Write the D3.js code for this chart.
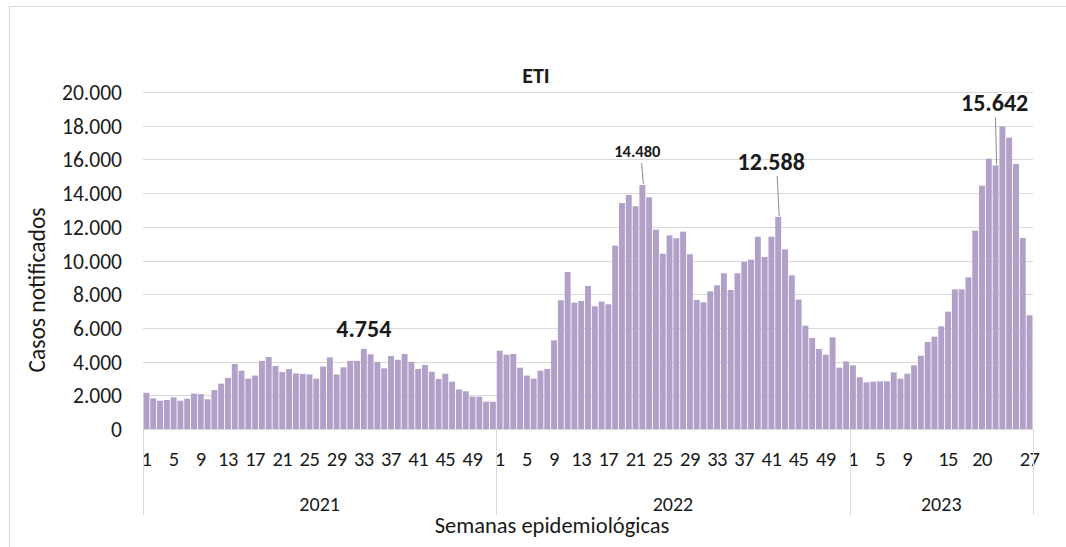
<!DOCTYPE html>
<html>
<head>
<meta charset="utf-8">
<script src="https://cdn.jsdelivr.net/npm/d3@7"></script>
<style>
  body { margin: 0; background: #fff; }
  svg text { font-family: Carlito, Calibri, Lato, sans-serif; fill: #1a1a1a; }
</style>
</head>
<body>
<svg id="chart"></svg>
<script>
// weekly ETI cases
const years = ["2021", "2022", "2023"];
const cases2021 = [2150,1820,1680,1720,1880,1680,1800,2100,2070,1760,
                   2310,2690,3030,3860,3460,2990,3170,4040,4270,3740,
                   3380,3560,3300,3270,3240,2990,3700,4250,3240,3660,
                   4040,4040,4754,4430,3980,3600,4330,4110,4450,3980,
                   3560,3800,3400,2970,3280,2810,2350,2240,1920,1920,
                   1620,1620];
const cases2022 = [4650,4410,4450,3640,3170,2990,3460,3560,5260,7640,
                   9320,7500,7600,8490,7280,7560,7400,10880,13410,13890,
                   13220,14480,13750,11830,10400,11490,11320,11710,10370,7660,
                   7520,8170,8530,9240,8250,9240,9910,10050,11410,10210,
                   11410,12588,10660,9120,7680,6130,5400,4750,4410,5440,
                   3640,4010];
const cases2023 = [3780,3070,2770,2810,2830,2830,3360,2990,3280,3780,
                   4350,5160,5480,6090,6960,8290,8290,9000,11770,14440,
                   16040,15642,17960,17290,15730,11340,6750];
const weekLabels2021 = [1,5,9,13,17,21,25,29,33,37,41,45,49];
const weekLabels2022 = [1,5,9,13,17,21,25,29,33,37,41,45,49];
const weekLabels2023 = [1,5,9,15,20,27];
const yTicks = [0,2000,4000,6000,8000,10000,12000,14000,16000,18000,20000];
const callouts = [
  { year: "2021", week: 33, text: "4.754" },
  { year: "2022", week: 22, text: "14.480" },
  { year: "2022", week: 42, text: "12.588" },
  { year: "2023", week: 22, text: "15.642" }
];

const width = 1066, height = 547;
const margin = { left: 143, right: 33, top: 92, bottom: 118 };

const svg = d3.select("#chart").attr("width", width).attr("height", height);

// flatten into one list of bars
let bars = [];
[cases2021, cases2022, cases2023].forEach(function (arr, i) {
  arr.forEach(function (v, j) {
    bars.push({ year: years[i], week: j + 1, value: v, key: years[i] + "-" + (j + 1) });
  });
});

let x = d3.scaleBand()
  .domain(bars.map(d => d.key))
  .range([margin.left, width - margin.right])
  .paddingInner(0.13)
  .paddingOuter(0.07);

let y = d3.scaleLinear()
  .domain([0, 20000])
  .range([height - margin.bottom, margin.top]);

const fmt = d3.formatLocale({ decimal: ",", thousands: ".", grouping: [3], currency: ["", ""] }).format(",d");

// frame (only top and left edges are visible in the crop)
svg.append("line").attr("x1", 9.5).attr("x2", width).attr("y1", 6.5).attr("y2", 6.5)
  .style("stroke", "#d9d9d9").style("stroke-width", 1.2);
svg.append("line").attr("x1", 9.5).attr("x2", 9.5).attr("y1", 6.5).attr("y2", height)
  .style("stroke", "#d9d9d9").style("stroke-width", 1.2);

// gridlines
svg.append("g")
  .selectAll("line")
  .data(yTicks.filter(t => t > 0))
  .join("line")
  .attr("x1", margin.left)
  .attr("x2", width - margin.right)
  .attr("y1", d => Math.round(y(d)) + 0.5)
  .attr("y2", d => Math.round(y(d)) + 0.5)
  .style("stroke", "#d9d9d9")
  .style("stroke-width", 1);

// y axis labels
let yAxis = d3.axisLeft(y).tickValues(yTicks).tickFormat(d => d === 0 ? "0" : fmt(d)).tickSize(0).tickPadding(21);
svg.append("g")
  .attr("transform", "translate(" + margin.left + ",0)")
  .call(yAxis)
  .call(g => g.select(".domain").remove())
  .selectAll("text")
  .style("font-size", "21.5px")
  .attr("dy", "0.35em");

// bars
svg.append("g")
  .selectAll("rect")
  .data(bars)
  .join("rect")
  .attr("x", d => x(d.key))
  .attr("width", x.bandwidth())
  .attr("y", d => y(d.value))
  .attr("height", d => y(0) - y(d.value))
  .style("fill", "#b1a0c8");

// baseline
svg.append("line")
  .attr("x1", margin.left).attr("x2", width - margin.right)
  .attr("y1", y(0) + 0.5).attr("y2", y(0) + 0.5)
  .style("stroke", "#d9d9d9");

// week tick labels
let weekTicks = [];
weekLabels2021.forEach(w => weekTicks.push({ key: "2021-" + w, label: w }));
weekLabels2022.forEach(w => weekTicks.push({ key: "2022-" + w, label: w }));
weekLabels2023.forEach(w => weekTicks.push({ key: "2023-" + w, label: w }));

svg.append("g")
  .selectAll("text")
  .data(weekTicks)
  .join("text")
  .attr("x", d => x(d.key) + x.bandwidth() / 2)
  .attr("y", y(0) + 37)
  .attr("text-anchor", "middle")
  .style("font-size", "20.5px")
  .style("letter-spacing", "-0.5px")
  .text(d => d.label);

// year group separators and labels
let step = x.step();
let groupEdges = [margin.left];
let groups = years.map(function (yr) {
  let ks = bars.filter(b => b.year === yr);
  let x0 = x(ks[0].key) - (step - x.bandwidth()) / 2;
  let x1 = x(ks[ks.length - 1].key) + x.bandwidth() + (step - x.bandwidth()) / 2;
  return { year: yr, x0: x0, x1: x1 };
});
groups[0].x0 = margin.left;
groups[groups.length - 1].x1 = width - margin.right;
groups.forEach(g => groupEdges.push(g.x1));

svg.append("g")
  .selectAll("line")
  .data(groupEdges)
  .join("line")
  .attr("x1", d => Math.round(d) + 0.5)
  .attr("x2", d => Math.round(d) + 0.5)
  .attr("y1", y(0))
  .attr("y2", y(0) + 86)
  .style("stroke", "#d9d9d9");

svg.append("g")
  .selectAll("text")
  .data(groups)
  .join("text")
  .attr("x", d => (d.x0 + d.x1) / 2)
  .attr("y", y(0) + 82)
  .attr("text-anchor", "middle")
  .style("font-size", "20px")
  .text(d => d.year);

// titles
svg.append("text")
  .attr("x", 536).attr("y", 83)
  .attr("text-anchor", "middle")
  .style("font-size", "22px").style("font-weight", "bold")
  .text("ETI");

svg.append("text")
  .attr("transform", "translate(45,290) rotate(-90)")
  .attr("text-anchor", "middle")
  .style("font-size", "23.5px")
  .text("Casos notificados");

svg.append("text")
  .attr("x", 552).attr("y", 533)
  .attr("text-anchor", "middle")
  .style("font-size", "22.5px")
  .text("Semanas epidemiológicas");

// data callouts
let calloutStyle = {
  "2021-33": { size: 24, dx: 0, lift: 12, leader: false },
  "2022-22": { size: 16.5, dx: -5, lift: 28, leader: true },
  "2022-42": { size: 24, dx: -7, lift: 47, leader: true },
  "2023-22": { size: 24, dx: -1, lift: 54, leader: true }
};

callouts.forEach(function (c) {
  let k = c.year + "-" + c.week;
  let s = calloutStyle[k];
  let d = bars.find(b => b.key === k);
  let cx = x(k) + x.bandwidth() / 2;
  let top = y(d.value);
  let tx = cx + s.dx;
  let ty = top - s.lift;
  if (s.leader) {
    svg.append("line")
      .attr("x1", cx + s.dx * 0.15).attr("y1", ty + 6)
      .attr("x2", cx + 1).attr("y2", top - 1)
      .style("stroke", "#8c8c8c").style("stroke-width", 1);
  }
  svg.append("text")
    .attr("x", tx).attr("y", ty)
    .attr("text-anchor", "middle")
    .style("font-size", s.size + "px")
    .style("font-weight", "bold")
    .text(c.text);
});
</script>
</body>
</html>
